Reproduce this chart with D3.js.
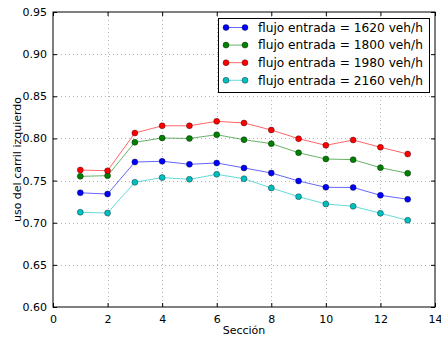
<!DOCTYPE html>
<html>
<head>
<meta charset="utf-8">
<script src="https://cdn.jsdelivr.net/npm/d3@7/dist/d3.min.js"></script>
<style>
  html, body { margin: 0; padding: 0; background: #fff; }
  svg { display: block; font-family: "DejaVu Sans", sans-serif; }
</style>
</head>
<body>
<svg id="chart" width="441" height="339"></svg>
<script>
// Sections along the road
const secciones = [1, 2, 3, 4, 5, 6, 7, 8, 9, 10, 11, 12, 13];

// Left-lane usage per section, one array per inflow level
const uso1620 = [0.7355, 0.7340, 0.7720, 0.7729, 0.7693, 0.7709, 0.7650, 0.7590, 0.7495, 0.7420, 0.7418, 0.7325, 0.7278];
const uso1800 = [0.7550, 0.7558, 0.7954, 0.8005, 0.8000, 0.8044, 0.7985, 0.7938, 0.7830, 0.7756, 0.7748, 0.7653, 0.7586];
const uso1980 = [0.7625, 0.7617, 0.8064, 0.8150, 0.8150, 0.8203, 0.8183, 0.8100, 0.7997, 0.7918, 0.7981, 0.7895, 0.7815];
const uso2160 = [0.7124, 0.7115, 0.7480, 0.7535, 0.7515, 0.7574, 0.7522, 0.7412, 0.7309, 0.7222, 0.7195, 0.7112, 0.7029];

const flujos = [1620, 1800, 1980, 2160];
const colores = ["#0000ff", "#008000", "#ff0000", "#00bfbf"];

const xTicks = [0, 2, 4, 6, 8, 10, 12, 14];
const yTicks = [0.60, 0.65, 0.70, 0.75, 0.80, 0.85, 0.90, 0.95];

const series = [uso1620, uso1800, uso1980, uso2160].map((vals, i) => ({
  etiqueta: `flujo entrada = ${flujos[i]} veh/h`,
  color: colores[i],
  puntos: secciones.map((s, j) => ({ x: s, y: vals[j] }))
}));

const margin = { left: 53, top: 12, right: 6, bottom: 32 };
const W = 441, H = 339;
const svg = d3.select("#chart");

const x = d3.scaleLinear().domain([0, 14]).range([margin.left, W - margin.right]);
const y = d3.scaleLinear().domain([0.60, 0.95]).range([H - margin.bottom, margin.top]);

const x0 = x.range()[0], x1 = x.range()[1];
const y0 = y.range()[0], y1 = y.range()[1];

// Dotted grid
const grid = svg.append("g").attr("stroke", "#a0a0a0").attr("stroke-width", 0.8)
  .attr("stroke-dasharray", "1,3").attr("shape-rendering", "crispEdges");
xTicks.slice(1, -1).forEach(t => grid.append("line")
  .attr("x1", Math.round(x(t)) + 0.5).attr("x2", Math.round(x(t)) + 0.5).attr("y1", y1).attr("y2", y0));
yTicks.slice(1, -1).forEach(t => grid.append("line")
  .attr("y1", Math.round(y(t)) + 0.5).attr("y2", Math.round(y(t)) + 0.5).attr("x1", x0).attr("x2", x1));

// Axes with inward ticks on all four sides
const fmtY = d3.format(".2f");
const axB = svg.append("g").attr("transform", `translate(0,${y0})`)
  .call(d3.axisBottom(x).tickValues(xTicks).tickSizeInner(-4).tickSizeOuter(0).tickPadding(6));
const axT = svg.append("g").attr("transform", `translate(0,${y1})`)
  .call(d3.axisTop(x).tickValues(xTicks).tickSizeInner(-4).tickSizeOuter(0).tickFormat(""));
const axL = svg.append("g").attr("transform", `translate(${x0},0)`)
  .call(d3.axisLeft(y).tickValues(yTicks).tickSizeInner(-4).tickSizeOuter(0).tickPadding(6).tickFormat(fmtY));
const axR = svg.append("g").attr("transform", `translate(${x1},0)`)
  .call(d3.axisRight(y).tickValues(yTicks).tickSizeInner(-4).tickSizeOuter(0).tickFormat(""));
[axB, axT, axL, axR].forEach(a => {
  a.select(".domain").remove();
  a.selectAll("line").attr("stroke", "#000");
  a.selectAll("text").attr("font-family", "DejaVu Sans").attr("font-size", 11).attr("fill", "#000");
});
axB.selectAll("text").attr("dy", "0.9em");

// Frame
svg.append("rect").attr("x", x0).attr("y", y1).attr("width", x1 - x0).attr("height", y0 - y1)
  .attr("fill", "none").attr("stroke", "#000").attr("stroke-width", 1);

// Lines and markers
const linea = d3.line().x(d => x(d.x)).y(d => y(d.y));
series.forEach(s => {
  svg.append("path").datum(s.puntos).attr("d", linea)
    .attr("fill", "none").attr("stroke", s.color).attr("stroke-opacity", 0.6).attr("stroke-width", 1);
  svg.append("g").selectAll("circle").data(s.puntos).join("circle")
    .attr("cx", d => x(d.x)).attr("cy", d => y(d.y)).attr("r", 3)
    .attr("fill", s.color).attr("stroke", "#000").attr("stroke-opacity", 0.45).attr("stroke-width", 0.8);
});

// Axis titles
svg.append("text").attr("x", (x0 + x1) / 2).attr("y", 334).attr("text-anchor", "middle")
  .attr("font-size", 11).text("Sección");
svg.append("text").attr("transform", `translate(20.5,${(y0 + y1) / 2}) rotate(-90)`)
  .attr("text-anchor", "middle").attr("font-size", 11).text("uso del carril izquierdo");

// Legend
const lg = svg.append("g");
lg.append("rect").attr("x", 218.5).attr("y", 18.5).attr("width", 211).attr("height", 74)
  .attr("fill", "#fff").attr("stroke", "#000").attr("stroke-width", 1);
series.forEach((s, i) => {
  const yy = 27.5 + i * 17.6;
  lg.append("line").attr("x1", 226).attr("x2", 245).attr("y1", yy).attr("y2", yy)
    .attr("stroke", s.color).attr("stroke-opacity", 0.6).attr("stroke-width", 1);
  [226, 245].forEach(cx => lg.append("circle").attr("cx", cx).attr("cy", yy).attr("r", 3)
    .attr("fill", s.color).attr("stroke", "#000").attr("stroke-opacity", 0.45).attr("stroke-width", 0.8));
  lg.append("text").attr("x", 258).attr("y", yy).attr("dy", "0.35em")
    .attr("font-size", 12.2).text(s.etiqueta);
});
</script>
</body>
</html>
